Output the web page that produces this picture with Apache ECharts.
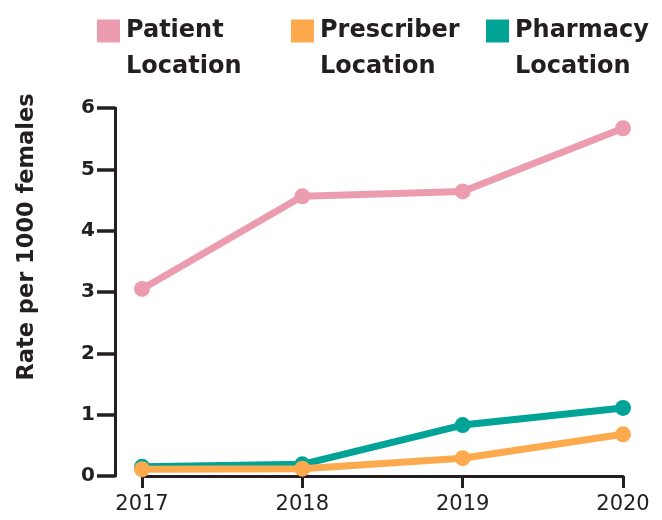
<!DOCTYPE html>
<html>
<head>
	<meta charset="utf-8">
	<title>Rate per 1000 females</title>
	<script src="https://cdn.jsdelivr.net/npm/echarts@6/dist/echarts.min.js"></script>
	<style type="text/css">
		html, body { margin: 0; padding: 0; background: #fff; }
		#main { width: 662px; height: 520px; }
	</style>
</head>
<body>
	<div id="main"></div>
	<script type="text/javascript">
		var years = ['2017', '2018', '2019', '2020'];
		var patientLocation = [3.05, 4.56, 4.64, 5.67];
		var prescriberLocation = [0.11, 0.12, 0.29, 0.68];
		var pharmacyLocation = [0.15, 0.19, 0.83, 1.11];
		var yTicks = [0, 1, 2, 3, 4, 5, 6];

		var font = 'DejaVu Sans';
		var ink = '#231f20';
		var colors = { patient: '#ec9caf', prescriber: '#fdaa4f', pharmacy: '#00a497' };

		// one legend per item so the square sits next to the first line of a two-line label
		function legendAt(name, color, left){
			var words = name.split(' ');
			return {
				data: [name],
				left: left,
				top: 8,
				itemWidth: 0,
				itemHeight: 0,
				selectedMode: false,
				formatter: function(){
					return '{sq| }{t|' + words[0] + '}\n{ind| }{t|' + words[1] + '}';
				},
				textStyle: {
					fontFamily: font,
					fontWeight: 'bold',
					fontSize: 24,
					lineHeight: 36,
					color: ink,
					rich: {
						sq: { width: 23, height: 23, backgroundColor: color },
						ind: { width: 23 },
						t: { fontFamily: font, fontWeight: 'bold', fontSize: 24, lineHeight: 36, color: ink, padding: [0, 0, 0, 6] }
					}
				}
			};
		}

		function lineSeries(name, color, data, z){
			return {
				name: name,
				type: 'line',
				data: data,
				symbol: 'circle',
				symbolSize: 16,
				lineStyle: { width: 7, color: color },
				itemStyle: { color: color },
				z: z
			};
		}

		var myChart = echarts.init(document.getElementById('main'));
		var option = {
			animation: false,
			legend: [
				legendAt('Patient Location', colors.patient, 86),
				legendAt('Prescriber Location', colors.prescriber, 280),
				legendAt('Pharmacy Location', colors.pharmacy, 475)
			],
			grid: { left: 142, right: 39, top: 108, bottom: 44 },
			xAxis: {
				type: 'category',
				data: years,
				boundaryGap: false,
				offset: 2,
				axisLine: { lineStyle: { color: ink, width: 3 } },
				axisTick: { length: 12, lineStyle: { color: ink, width: 3 } },
				axisLabel: { margin: 16, fontFamily: font, fontSize: 21, color: ink }
			},
			yAxis: {
				type: 'value',
				min: yTicks[0],
				max: yTicks[yTicks.length - 1],
				interval: 1,
				offset: 27,
				splitLine: { show: false },
				axisLine: { show: true, lineStyle: { color: ink, width: 3 } },
				axisTick: { show: true, length: 18, lineStyle: { color: ink, width: 3.5 } },
				axisLabel: { margin: 20, fontFamily: font, fontWeight: 'bold', fontSize: 20, color: ink },
				name: 'Rate per 1000 females',
				nameLocation: 'middle',
				nameGap: 76,
				nameTextStyle: {
					fontFamily: font, fontWeight: 'bold', fontSize: 22.5, color: ink,
					padding: [0, 0, 0, 110]
				}
			},
			series: [
				lineSeries('Patient Location', colors.patient, patientLocation, 2),
				lineSeries('Prescriber Location', colors.prescriber, prescriberLocation, 4),
				lineSeries('Pharmacy Location', colors.pharmacy, pharmacyLocation, 3)
			]
		};
		myChart.setOption(option);
	</script>
</body>
</html>
